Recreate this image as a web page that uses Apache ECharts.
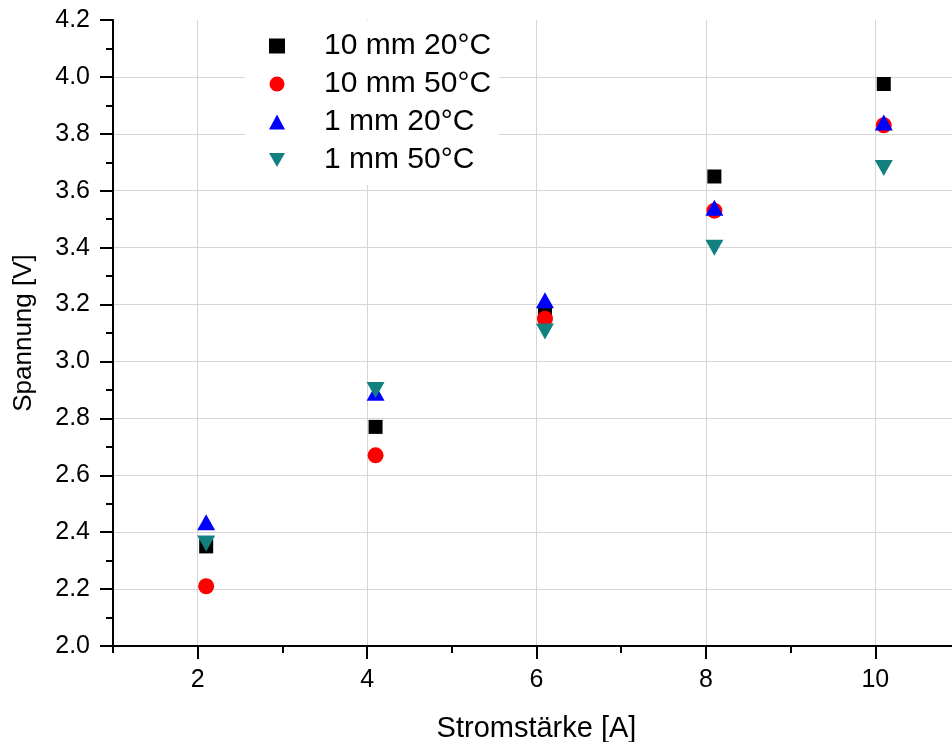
<!DOCTYPE html>
<html>
<head>
<meta charset="utf-8">
<script src="https://cdn.jsdelivr.net/npm/echarts@6/dist/echarts.min.js"></script>
<style>
  html, body { margin: 0; padding: 0; background: #fff; }
  #chart { width: 952px; height: 742px; }
</style>
</head>
<body>
<div id="chart"></div>
<script>
// Current (A) for each measurement point
const current = [2.1, 4.1, 6.1, 8.1, 10.1];

// Measured voltage (V) per sample thickness / temperature
const v10mm20 = [2.35, 2.77, 3.17, 3.65, 3.975];
const v10mm50 = [2.21, 2.67, 3.15, 3.53, 3.83];
const v1mm20  = [2.435, 2.89, 3.215, 3.54, 3.84];
const v1mm50  = [2.36, 2.90, 3.105, 3.40, 3.68];

const seriesNames = ['10 mm 20°C', '10 mm 50°C', '1 mm 20°C', '1 mm 50°C'];

// Axis ticks
const xMajorTicks = [2, 4, 6, 8, 10];
const xMinorTicks = [1, 3, 5, 7, 9, 11];

const FONT = '"Liberation Sans", Arial, sans-serif';
const DOWN_TRIANGLE = 'path://M0,0 L18,0 L9,16 Z';

function pairs(ys) {
  return current.map((x, i) => [x, ys[i]]);
}

// Plot rectangle; the x range runs a little past the right edge of the canvas
const gridBox = { left: 113, right: -8, top: 20, bottom: 96, outerBoundsMode: 'none', containLabel: false };

const chart = echarts.init(document.getElementById('chart'), null, { renderer: 'canvas' });

chart.setOption({
  backgroundColor: '#fff',
  animation: false,
  textStyle: { fontFamily: FONT },
  grid: [
    Object.assign({}, gridBox),
    Object.assign({}, gridBox)
  ],
  legend: {
    orient: 'vertical',
    left: 245,
    top: 21,
    padding: [10, 8, 10, 24],
    backgroundColor: '#fff',
    itemWidth: 16,
    itemHeight: 15,
    itemGap: 8,
    textStyle: {
      fontFamily: FONT,
      fontSize: 30,
      color: '#000',
      padding: [0, 0, 0, 34]
    },
    data: [
      { name: seriesNames[0] },
      { name: seriesNames[1] },
      { name: seriesNames[2] },
      { name: seriesNames[3], icon: DOWN_TRIANGLE }
    ]
  },
  xAxis: [
    {
      gridIndex: 0,
      type: 'value',
      min: 1,
      max: 11,
      name: 'Stromstärke [A]',
      nameLocation: 'middle',
      nameGap: 68,
      nameTextStyle: { fontFamily: FONT, fontSize: 29, color: '#000' },
      axisLine: { show: true, onZero: false, lineStyle: { color: '#000', width: 2 } },
      axisTick: { show: true, length: 13, customValues: xMajorTicks, lineStyle: { color: '#000', width: 2 } },
      axisLabel: { customValues: xMajorTicks, fontFamily: FONT, fontSize: 25, color: '#000', margin: 22 },
      splitLine: { show: true, lineStyle: { color: '#d6d6d6', width: 1 } },
      minorTick: { show: false }
    },
    {
      gridIndex: 1,
      type: 'value',
      min: 1,
      max: 11,
      axisLine: { show: false },
      axisTick: { show: true, length: 7, customValues: xMinorTicks, lineStyle: { color: '#000', width: 2 } },
      axisLabel: { show: false },
      splitLine: { show: false }
    }
  ],
  yAxis: [
    {
      gridIndex: 0,
      type: 'value',
      min: 2.0,
      max: 4.2,
      interval: 0.2,
      name: 'Spannung [V]',
      nameLocation: 'middle',
      nameGap: 76,
      nameRotate: 90,
      nameTextStyle: { fontFamily: FONT, fontSize: 26, color: '#000' },
      axisLine: { show: true, onZero: false, lineStyle: { color: '#000', width: 2 } },
      axisTick: { show: true, length: 13, lineStyle: { color: '#000', width: 2 } },
      minorTick: { show: true, splitNumber: 2, length: 7, lineStyle: { color: '#000', width: 2 } },
      axisLabel: {
        fontFamily: FONT, fontSize: 25, color: '#000', margin: 23,
        formatter: v => v.toFixed(1)
      },
      splitLine: { show: true, showMinLine: false, showMaxLine: false, lineStyle: { color: '#d6d6d6', width: 1 } }
    },
    {
      gridIndex: 1,
      type: 'value',
      min: 2.0,
      max: 4.2,
      show: false
    }
  ],
  series: [
    {
      name: seriesNames[0], type: 'scatter', xAxisIndex: 0, yAxisIndex: 0,
      symbol: 'rect', symbolSize: 14,
      itemStyle: { color: '#000000', opacity: 1 },
      data: pairs(v10mm20)
    },
    {
      name: seriesNames[1], type: 'scatter', xAxisIndex: 0, yAxisIndex: 0,
      symbol: 'circle', symbolSize: 16,
      itemStyle: { color: '#ff0000', opacity: 1 },
      data: pairs(v10mm50)
    },
    {
      name: seriesNames[2], type: 'scatter', xAxisIndex: 0, yAxisIndex: 0,
      symbol: 'triangle', symbolSize: [18, 16],
      itemStyle: { color: '#0000ff', opacity: 1 },
      data: pairs(v1mm20)
    },
    {
      name: seriesNames[3], type: 'scatter', xAxisIndex: 0, yAxisIndex: 0,
      symbol: 'triangle', symbolRotate: 180, symbolSize: [18, 16],
      itemStyle: { color: '#138080', opacity: 1 },
      data: pairs(v1mm50)
    }
  ]
});
</script>
</body>
</html>
